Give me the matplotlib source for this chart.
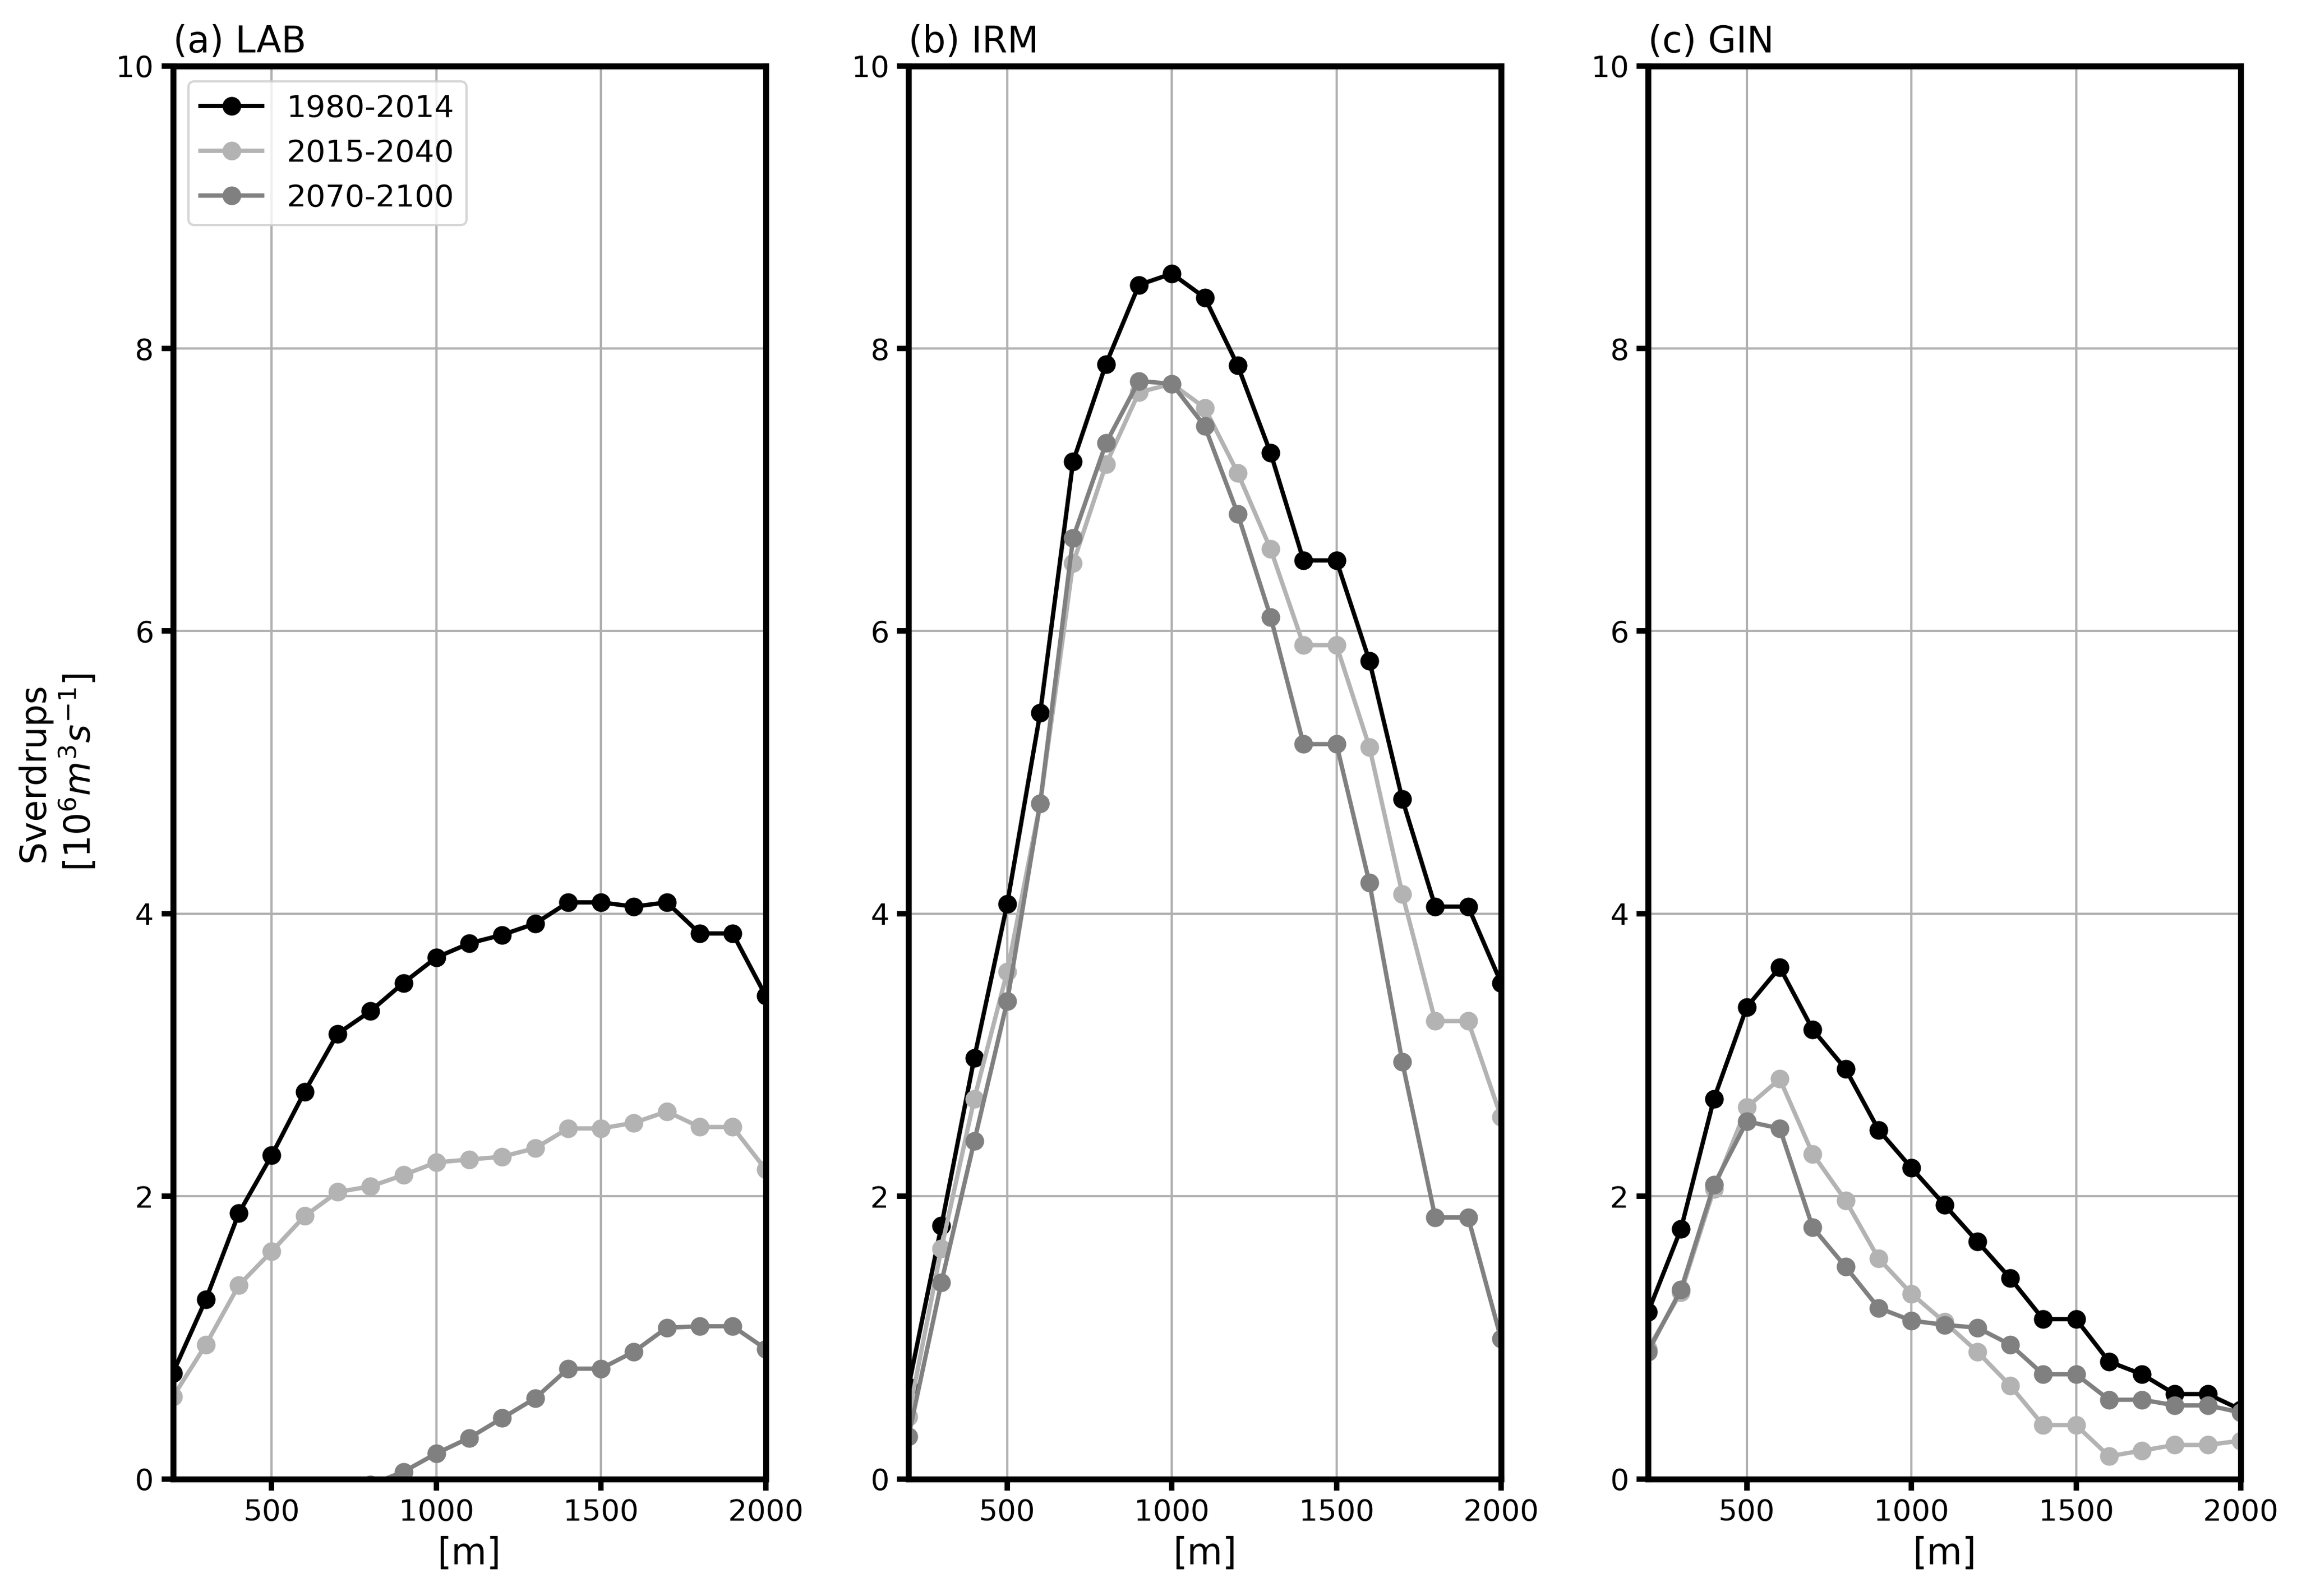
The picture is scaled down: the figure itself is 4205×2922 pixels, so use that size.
import matplotlib

matplotlib.use("Agg")
import matplotlib.pyplot as plt
import numpy as np

# depth levels [m]
depth = np.arange(200, 2001, 100)

periods = ["1980-2014", "2015-2040", "2070-2100"]
colors = ["#000000", "#b3b3b3", "#808080"]

# (a) LAB
lab_hist = [0.75, 1.27, 1.88, 2.29, 2.74, 3.15, 3.31, 3.51, 3.69, 3.79,
            3.85, 3.93, 4.08, 4.08, 4.05, 4.08, 3.86, 3.86, 3.42]
lab_near = [0.58, 0.95, 1.37, 1.61, 1.86, 2.03, 2.07, 2.15, 2.24, 2.26,
            2.28, 2.34, 2.48, 2.48, 2.52, 2.60, 2.49, 2.49, 2.19]
lab_far = [-1.2, -1.0, -0.8, -0.6, -0.4, -0.2, -0.04, 0.05, 0.18, 0.29,
           0.43, 0.57, 0.78, 0.78, 0.90, 1.07, 1.08, 1.08, 0.92]

# (b) IRM
irm_hist = [0.65, 1.79, 2.98, 4.07, 5.42, 7.20, 7.89, 8.45, 8.53, 8.36,
            7.88, 7.26, 6.50, 6.50, 5.79, 4.81, 4.05, 4.05, 3.51]
irm_near = [0.44, 1.63, 2.69, 3.59, 4.78, 6.48, 7.18, 7.69, 7.75, 7.58,
            7.12, 6.58, 5.90, 5.90, 5.18, 4.14, 3.24, 3.24, 2.56]
irm_far = [0.30, 1.39, 2.39, 3.38, 4.78, 6.66, 7.33, 7.77, 7.75, 7.45,
           6.83, 6.10, 5.20, 5.20, 4.22, 2.95, 1.85, 1.85, 0.99]

# (c) GIN
gin_hist = [1.18, 1.77, 2.69, 3.34, 3.62, 3.18, 2.90, 2.47, 2.20, 1.94,
            1.68, 1.42, 1.13, 1.13, 0.83, 0.74, 0.60, 0.60, 0.49]
gin_near = [0.92, 1.32, 2.05, 2.63, 2.83, 2.30, 1.97, 1.56, 1.31, 1.11,
            0.90, 0.66, 0.38, 0.38, 0.16, 0.20, 0.24, 0.24, 0.27]
gin_far = [0.90, 1.34, 2.08, 2.53, 2.48, 1.78, 1.50, 1.21, 1.12, 1.09,
           1.07, 0.95, 0.74, 0.74, 0.56, 0.56, 0.52, 0.52, 0.47]

panels = [
    ("(a) LAB", [lab_hist, lab_near, lab_far]),
    ("(b) IRM", [irm_hist, irm_near, irm_far]),
    ("(c) GIN", [gin_hist, gin_near, gin_far]),
]

plt.rcParams.update({"font.family": "DejaVu Sans"})

fig = plt.figure(figsize=(4205 / 300, 2922 / 300), dpi=300, facecolor="white")

lefts = [0.0753, 0.3955, 0.7175]
width, bottom, height = 0.258, 0.0734, 0.8853

for i, (title, series) in enumerate(panels):
    ax = fig.add_axes([lefts[i], bottom, width, height])
    for vals, lab, col in zip(series, periods, colors):
        ax.plot(depth, vals, "-o", color=col, lw=1.9, ms=7.2, label=lab)
    ax.set_xlim(200, 2000)
    ax.set_ylim(0, 10)
    ax.set_xticks([500, 1000, 1500, 2000])
    ax.set_yticks([0, 2, 4, 6, 8, 10])
    ax.grid(True, color="#b0b0b0", lw=1.0)
    ax.set_axisbelow(True)
    for sp in ax.spines.values():
        sp.set_linewidth(2.6)
    ax.tick_params(width=2.4, length=5, labelsize=13)
    ax.set_xlabel("[m]", fontsize=16)
    ax.set_title(title, loc="left", fontsize=16, pad=6)
    if i == 0:
        ax.set_ylabel("Sverdrups\n[$10^6 m^3 s^{-1}$]", fontsize=15.5, labelpad=8)
        ax.legend(loc="upper left", fontsize=13.5)

fig.savefig("out.png", dpi=300, facecolor="white")
